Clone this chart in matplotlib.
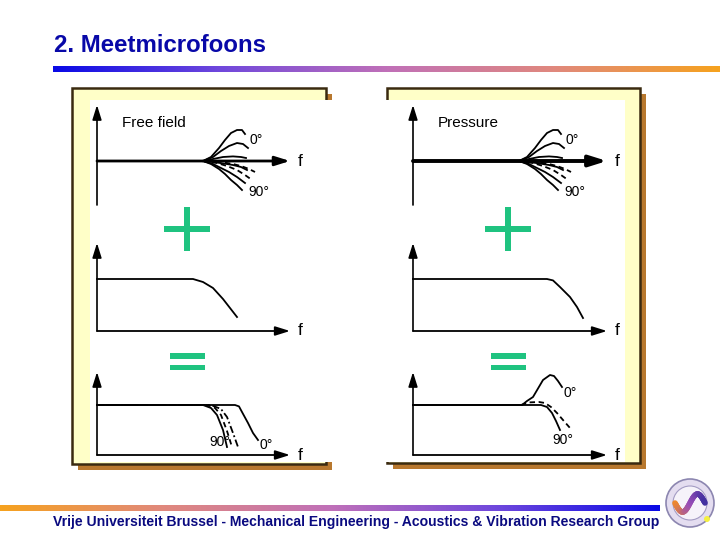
import numpy as np
import matplotlib
matplotlib.use("Agg")
import matplotlib.pyplot as plt
from matplotlib.patches import Rectangle, Circle
from matplotlib.colors import LinearSegmentedColormap

# ---------------- data ----------------
title_text = "2. Meetmicrofoons"
footer_text = "Vrije Universiteit Brussel - Mechanical Engineering - Acoustics & Vibration Research Group"
panel_titles = ["Free field", "Pressure"]
angle_labels = ["0°", "90°"]
axis_label = "f"

# directivity deviation curves (top panels), x = relative frequency, y = relative level
dev_0_x = [53, 57, 61, 64, 67, 70, 72.5, 74]
dev_0_y = [0, 2, 6.5, 10.5, 14, 15.5, 15.5, 13.5]
dev_30_x = [53, 58, 62, 66, 70, 73, 75.5]
dev_30_y = [0, 2, 5, 7.5, 9, 8.5, 6.5]
dev_60_x = [53, 58, 63, 68, 72, 74.5]
dev_60_y = [0, 1, 2, 2.3, 2, 1.5]
dev_75_x = [53, 58, 63, 68, 72, 75]
dev_75_y = [0, -0.5, -1.2, -2, -3, -4.5]
dev_80_x = [53, 58, 62, 66, 70, 74]
dev_80_y = [0, -1.5, -3.5, -5.5, -8, -11]
dev_90_x = [53, 57, 61, 64, 67, 70, 72.5]
dev_90_y = [0, -1.5, -4, -6.5, -9.5, -12, -14.5]
dev_d1_x = [53, 60, 65, 70, 74, 77.5]
dev_d1_y = [0, -1, -2.5, -4.5, -7, -9.5]
dev_d2_x = [55, 62, 68, 72, 76, 79]
dev_d2_y = [0, -0.5, -1.5, -2.5, -4, -5.5]

# microphone response (middle panels)
ff_resp_x = [0, 48, 53, 58, 63, 66.5, 70]
ff_resp_y = [26, 26, 24.5, 21.5, 16, 11.5, 7]
pr_resp_x = [0, 67, 70, 73.5, 78.5, 82, 85]
pr_resp_y = [26, 26, 25.3, 22, 17, 12, 6.5]

# resulting response (bottom panels)
ff_sum_0_x = [0, 69, 71, 72.5, 75.5, 78, 80.5]
ff_sum_0_y = [25, 25, 24.3, 21.5, 16, 11, 7.5]
ff_sum_90_x = [0, 53, 57, 60, 63, 65]
ff_sum_90_y = [25, 25, 23.5, 20, 12.5, 4]
ff_sum_d1_x = [0, 55, 59, 62, 65, 67.5]
ff_sum_d1_y = [25, 25, 23.5, 20, 12, 4]
ff_sum_d2_x = [0, 57, 62, 65, 68, 70.5]
ff_sum_d2_y = [25, 25, 23, 19, 11, 4]

pr_sum_0_x = [0, 54.5, 57, 60, 65, 68.5, 70.5, 72.5, 74.5]
pr_sum_0_y = [25, 25, 27, 29, 37.5, 40, 39.5, 37, 34]
pr_sum_90_x = [0, 64, 67, 69.5, 71.5, 73.5]
pr_sum_90_y = [25, 25, 24, 21, 17, 12.5]
pr_sum_d_x = [54, 58, 63, 66, 69, 72, 75, 78.5]
pr_sum_d_y = [25, 26.3, 26.5, 26, 24, 21, 17.5, 13.5]

# ---------------- figure ----------------
W, H = 720, 540
fig = plt.figure(figsize=(7.2, 5.4), dpi=100)
fig.patch.set_facecolor("white")
bg = fig.add_axes([0, 0, 1, 1])
bg.set_xlim(0, W)
bg.set_ylim(H, 0)
bg.axis("off")

FONT = ["Liberation Sans", "DejaVu Sans"]
GREEN = "#1FC380"
TITLE_BLUE = "#0808A8"

# gradient bars
top_cmap = LinearSegmentedColormap.from_list(
    "top", ["#0A0AE6", "#7048DC", "#C070B8", "#E0887E", "#F6A21E"])
grad = np.linspace(0, 1, 512).reshape(1, -1)
bg.imshow(grad, extent=(53, 720, 72, 66), aspect="auto", cmap=top_cmap, zorder=1)
bg.imshow(grad[:, ::-1], extent=(0, 660, 511, 505), aspect="auto", cmap=top_cmap, zorder=1)
bg.set_xlim(0, W)
bg.set_ylim(H, 0)

# title and footer
bg.text(54, 45, title_text, fontsize=17.3, fontweight="bold", color=TITLE_BLUE,
        family=FONT, ha="left", va="center")
bg.text(356, 522, footer_text, fontsize=10.1, fontweight="bold", color="#0A0A80",
        family=FONT, ha="center", va="center")

# logo
bg.add_patch(Circle((690, 503), 24, fc="#E4DDF0", ec="#8C86B0", lw=1.2, zorder=3))
bg.add_patch(Circle((690, 503), 17, fc="#F6F3FA", ec="#A49CC4", lw=0.8, zorder=4))
t = np.linspace(0, 1, 60)
lx = 675 + 30 * t
ly = 503 - 9 * np.sin(2 * np.pi * t + np.pi)
wave_cmap = LinearSegmentedColormap.from_list("w", ["#F08A2A", "#9A4FB8", "#4030A0"])
for i in range(len(t) - 1):
    bg.plot(lx[i:i + 2], ly[i:i + 2], color=wave_cmap(t[i]), lw=4, solid_capstyle="round", zorder=5)
bg.add_patch(Circle((707, 519), 3, fc="#F4F040", ec="none", zorder=6))

# panel frames
SHADOW = "#B8782E"
FRAME = "#3A2A10"
YEL = "#FFFFC8"
for (fx, fy, fw, fh, wx, wy, ww, wh) in [(72, 88, 254, 376, 90, 100, 243, 362),
                                         (387, 88, 253, 375, 386, 100, 239, 362)]:
    bg.add_patch(Rectangle((fx + 6, fy + 6), fw, fh, fc=SHADOW, ec="none", zorder=2))
    bg.add_patch(Rectangle((fx, fy), fw, fh, fc=YEL, ec=FRAME, lw=1.8, zorder=3))
    bg.add_patch(Rectangle((wx, wy), ww, wh, fc="white", ec="none", zorder=4))

# plus and equals signs
for cx in (187, 508):
    bg.add_patch(Rectangle((cx - 23, 229 - 2.8), 46, 5.6, fc=GREEN, ec="none", zorder=5))
    bg.add_patch(Rectangle((cx - 2.8, 229 - 22), 5.6, 44, fc=GREEN, ec="none", zorder=5))
    bg.add_patch(Rectangle((cx - 17, 353), 35, 5.5, fc=GREEN, ec="none", zorder=5))
    bg.add_patch(Rectangle((cx - 17, 364.5), 35, 5.5, fc=GREEN, ec="none", zorder=5))

# ---------------- mini plots ----------------
XMIN, XMAX, YMIN, YMAX = -5, 110, -27, 48
SC = 2.0  # pixels per unit


def mini(ox, oy):
    left = ox + XMIN * SC
    right = ox + XMAX * SC
    top = oy - YMAX * SC
    bottom = oy - YMIN * SC
    ax = fig.add_axes([left / W, 1 - bottom / H, (right - left) / W, (bottom - top) / H])
    ax.set_xlim(XMIN, XMAX)
    ax.set_ylim(YMIN, YMAX)
    ax.axis("off")
    ax.patch.set_alpha(0)
    return ax


def arrow(ax, x0, y0, x1, y1, lw=1.3, ms=11):
    ax.annotate("", xy=(x1, y1), xytext=(x0, y0),
                arrowprops=dict(arrowstyle="-|>,head_length=0.8,head_width=0.25",
                                lw=lw, color="black", shrinkA=0, shrinkB=0,
                                mutation_scale=ms))


def axes_frame(ax, ytop, ybottom=0, xend=96.5, xlw=1.3, ms=11):
    arrow(ax, 0, ybottom, 0, ytop, lw=1.2)
    arrow(ax, 0, 0, xend, 0, lw=xlw, ms=ms)
    ax.text(xend + 4, 0, axis_label, fontsize=12.5, family=FONT, ha="left", va="center")


LW = 1.3
cols = [(97, "ff"), (413, "pr")]
for ci, (ox, key) in enumerate(cols):
    # top: directivity deviations
    ax = mini(ox, 161)
    axes_frame(ax, 28, -22, xend=96.5 if ci == 0 else 97,
               xlw=2.0 if ci == 0 else 2.8, ms=11 if ci == 0 else 13)
    ax.plot(dev_0_x, dev_0_y, color="black", lw=LW)
    ax.plot(dev_30_x, dev_30_y, color="black", lw=LW)
    ax.plot(dev_60_x, dev_60_y, color="black", lw=LW)
    ax.plot(dev_75_x, dev_75_y, color="black", lw=LW)
    ax.plot(dev_80_x, dev_80_y, color="black", lw=LW)
    ax.plot(dev_90_x, dev_90_y, color="black", lw=LW)
    ax.plot(dev_d1_x, dev_d1_y, color="black", lw=LW, ls=(0, (3, 2)))
    ax.plot(dev_d2_x, dev_d2_y, color="black", lw=LW, ls=(0, (3, 2)))
    ax.text(12.5, 19, panel_titles[ci], fontsize=11, family=FONT, ha="left", va="center")
    ax.text(76.5, 10.5, angle_labels[0], fontsize=10, family=FONT, ha="left", va="center")
    ax.text(75.5, -15.5, angle_labels[1], fontsize=10, family=FONT, ha="left", va="center")

    # middle: microphone response
    ax = mini(ox, 331)
    axes_frame(ax, 44, 0, xend=96.5 if ci == 0 else 97)
    if key == "ff":
        ax.plot(ff_resp_x, ff_resp_y, color="black", lw=LW)
    else:
        ax.plot(pr_resp_x, pr_resp_y, color="black", lw=LW)

    # bottom: resulting response
    ax = mini(ox, 455)
    axes_frame(ax, 41.5, 0, xend=96.5 if ci == 0 else 97)
    if key == "ff":
        ax.plot(ff_sum_0_x, ff_sum_0_y, color="black", lw=LW)
        ax.plot(ff_sum_90_x, ff_sum_90_y, color="black", lw=LW)
        ax.plot(ff_sum_d1_x, ff_sum_d1_y, color="black", lw=LW, ls=(0, (3, 2)))
        ax.plot(ff_sum_d2_x, ff_sum_d2_y, color="black", lw=LW, ls=(0, (4, 1.5, 1, 1.5)))
        ax.text(56, 6.5, angle_labels[1], fontsize=10, family=FONT, ha="left", va="center")
        ax.text(81, 5, angle_labels[0], fontsize=10, family=FONT, ha="left", va="center")
    else:
        ax.plot(pr_sum_0_x, pr_sum_0_y, color="black", lw=LW)
        ax.plot(pr_sum_90_x, pr_sum_90_y, color="black", lw=LW)
        ax.plot(pr_sum_d_x, pr_sum_d_y, color="black", lw=LW, ls=(0, (3, 2)))
        ax.text(75, 31, angle_labels[0], fontsize=10, family=FONT, ha="left", va="center")
        ax.text(69.5, 7.5, angle_labels[1], fontsize=10, family=FONT, ha="left", va="center")

fig.savefig("out.png", dpi=100)
